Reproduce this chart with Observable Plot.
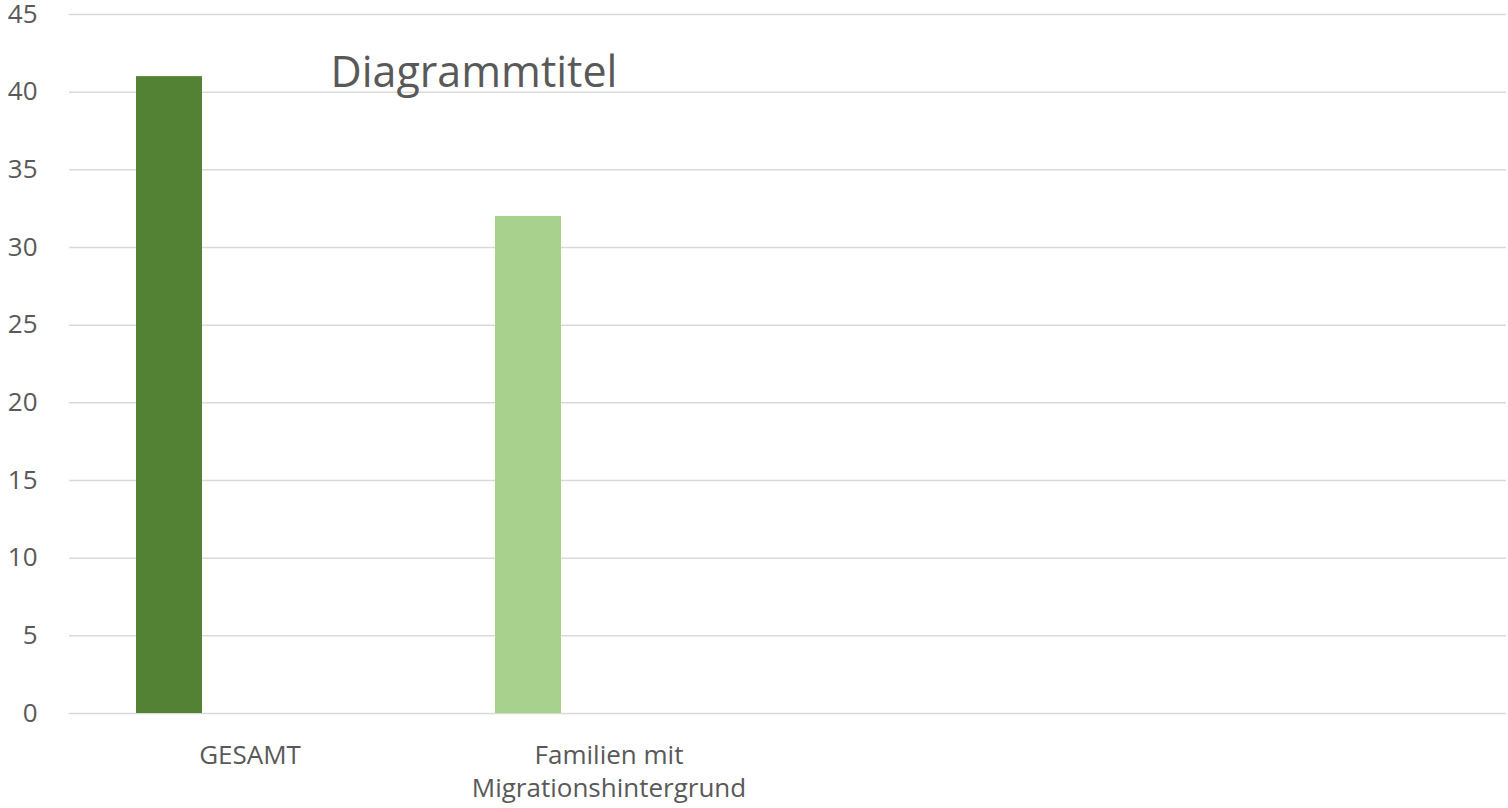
<!DOCTYPE html>
<html>
<head>
<meta charset="utf-8">
<script src="https://cdn.jsdelivr.net/npm/d3@7"></script>
<script src="https://cdn.jsdelivr.net/npm/@observablehq/plot@0.6"></script>
<style>
  html, body { margin: 0; padding: 0; background: #fff; }
  #chart { width: 1508px; height: 808px; }
</style>
</head>
<body>
<div id="chart"></div>
<script>
const title = "Diagrammtitel";
const categories = ["GESAMT", "Familien mit\nMigrationshintergrund", "", " "];
const values = [41, 32, null, null];
const colors = ["#548235", "#a9d18e", "#ffffff", "#ffffff"];
const yTicks = [0, 5, 10, 15, 20, 25, 30, 35, 40, 45];

const data = categories.map((c, i) => ({category: c, value: values[i], color: colors[i]}))
  .filter(d => d.value != null);

const chart = Plot.plot({
  width: 1508,
  height: 808,
  marginLeft: 69,
  marginRight: 2,
  marginTop: 14,
  marginBottom: 95,
  style: {fontFamily: "'Open Sans', sans-serif", color: "#595959", background: "#fff", overflow: "visible"},
  x: {domain: categories, padding: 0, label: null},
  y: {domain: [0, 45], label: null},
  marks: [
    Plot.gridY(yTicks, {stroke: "#d9d9d9", strokeOpacity: 1, strokeWidth: 1.5}),
    Plot.barY(data, {x: "category", y: "value", fill: "color", insetLeft: 66, insetRight: 227}),
    Plot.axisY(yTicks, {tickSize: 0, tickPadding: 32, fontSize: 26, fill: "#595959", label: null}),
    Plot.axisX({tickSize: 0, tickPadding: 27, fontSize: 26, fill: "#595959", lineHeight: 1.27, label: null}),
    Plot.text([title], {frameAnchor: "top-left", text: d => d, dx: 261, dy: 59, textAnchor: "start", lineAnchor: "middle", fontSize: 43, fill: "#595959"})
  ]
});
document.getElementById("chart").appendChild(chart);
</script>
</body>
</html>
